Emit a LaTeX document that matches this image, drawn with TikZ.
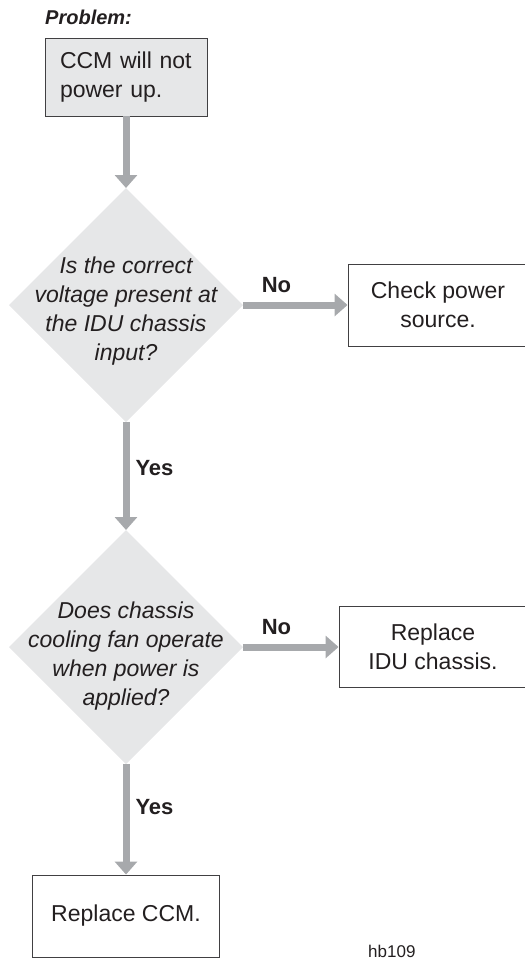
\documentclass[tikz,border=0pt]{standalone}
\usepackage{fontspec}
\setmainfont{Liberation Sans}
\usepackage{xcolor}
\usetikzlibrary{arrows.meta, shapes.geometric}
\definecolor{panel}{RGB}{230,231,232}
\definecolor{flowgray}{RGB}{167,169,172}
\definecolor{edgegray}{RGB}{65,64,66}
\definecolor{inkgray}{RGB}{35,31,32}

\begin{document}
\begin{tikzpicture}[x=1pt, y=1pt, >={Triangle[length=13pt, width=22pt]}, text=inkgray,
  flow/.style={->, line width=7pt, draw=flowgray},
  box/.style={draw=edgegray, line width=0.9pt, fill=white, inner sep=0pt, align=center,
    font=\fontsize{23}{29.5}\selectfont},
  decision/.style={diamond, fill=panel, minimum width=234pt, minimum height=234pt,
    inner sep=0pt, outer sep=0pt},
  asks/.style={align=center, inner sep=0pt, font=\fontsize{23}{29}\selectfont\itshape},
  answer/.style={inner sep=0pt, font=\fontsize{22}{26}\selectfont\bfseries}]
  \useasboundingbox (0,0) rectangle (525,-959);
  \clip (0,0) rectangle (525,-959);

  \node[anchor=base west, inner sep=0pt, font=\fontsize{20}{24}\selectfont\bfseries\itshape]
    (title) at (45,-24) {Problem:};
  \node[box, fill=panel, minimum width=162pt, minimum height=78pt, text width=132pt, align=left]
    (ccm) at (126,-77) {CCM will not\\power up.};

  % first question
  \node[decision] (q1) at (126,-305) {};
  \node[asks] (q1text) at ([yshift=-6pt]q1.center)
    {Is the correct\\voltage present at\\the IDU chassis\\input?};
  \node[box, minimum width=180pt, minimum height=82pt] (source) at (438,-305)
    {Check power\\source.};

  % second question
  \node[decision] (q2) at (126,-647) {};
  \node[asks] (q2text) at ([yshift=-9pt]q2.center)
    {Does chassis\\cooling fan operate\\when power is\\applied?};
  \node[box, minimum width=188pt, minimum height=81pt] (chassis) at (433,-647)
    {Replace\\IDU chassis.};

  \node[box, minimum width=187pt, minimum height=82pt] (replace) at (126,-916)
    {Replace CCM.};
  \node[anchor=base west, inner sep=0pt, font=\fontsize{17}{20}\selectfont]
    (tag) at (368,-957) {hb109};

  \draw[flow] (ccm) -- (q1);
  \draw[flow] (q1) -- node[answer, pos=.32, above=9pt] {No} (source);
  \draw[flow] (q1) -- node[answer, pos=.43, right=6pt] {Yes} (q2);
  \draw[flow] (q2) -- node[answer, pos=.35, above=9pt] {No} (chassis);
  \draw[flow] (q2) -- node[answer, pos=.39, right=6pt] {Yes} (replace);
\end{tikzpicture}
\end{document}
